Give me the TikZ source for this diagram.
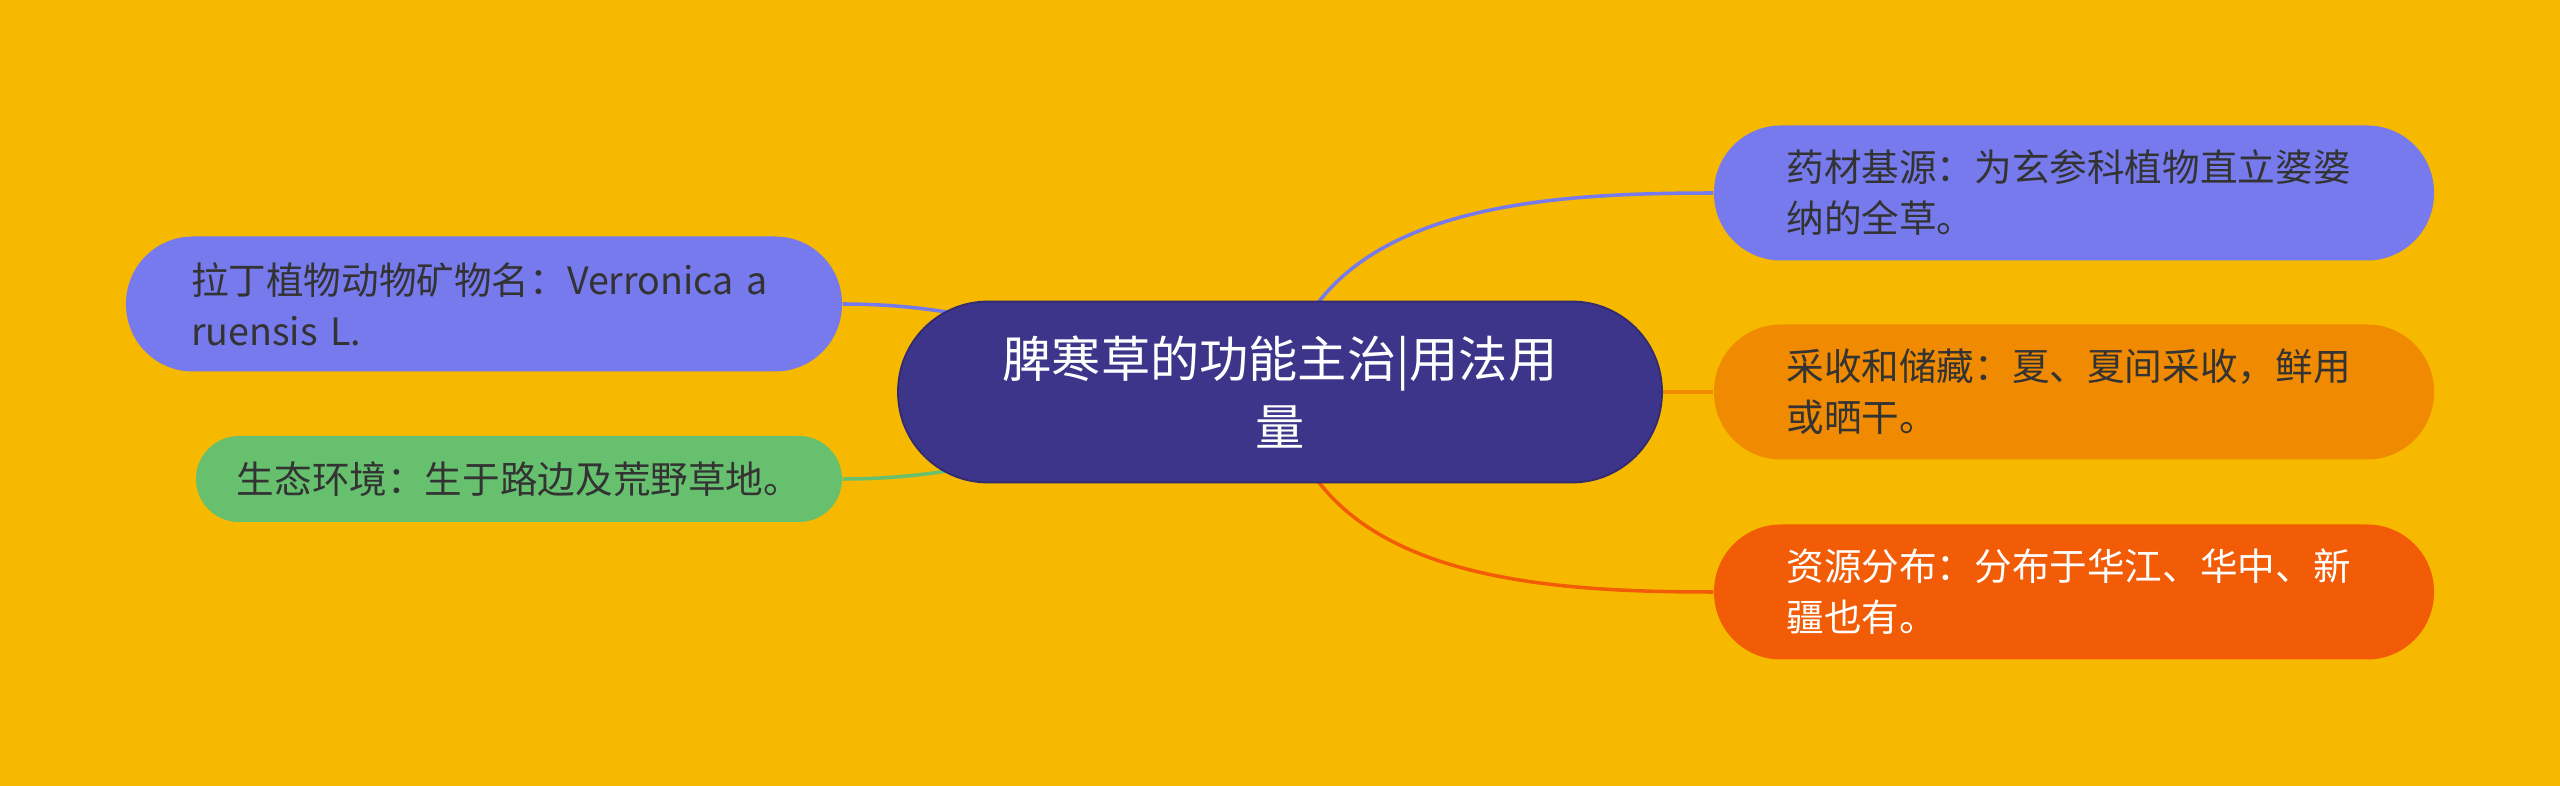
\documentclass[tikz,border=0pt]{standalone}
\usepackage{fontspec}
\setmainfont{Noto Sans CJK SC}
\definecolor{bgyellow}{RGB}{246,185,0}
\definecolor{rootblue}{RGB}{61,53,137}
\definecolor{leafblue}{RGB}{118,122,236}
\definecolor{leaforange}{RGB}{240,138,0}
\definecolor{leafred}{RGB}{242,92,6}
\definecolor{leafgreen}{RGB}{102,192,110}
\definecolor{textdark}{RGB}{51,51,51}
\pgfdeclarelayer{bg}
\pgfdeclarelayer{lines}
\pgfsetlayers{bg,lines,main}

\begin{document}
\begin{tikzpicture}[
    root/.style={fill=rootblue, draw=rootblue!80!black, line width=0.5pt, text=white,
        minimum width=7.64cm, minimum height=1.81cm, rounded corners=0.9cm,
        align=center, font=\fontsize{14}{19.6}\selectfont},
    leaf/.style={minimum height=1.35cm, rounded corners=0.67cm, text=textdark,
        align=left, font=\fontsize{10.7}{14.5}\selectfont},
    branch/.style={line width=1pt}
  ]
            \useasboundingbox (0,0) rectangle (25.6,7.85);

            \node[root] (C) at (12.80,3.93) {脾寒草的功能主治|用法用\\量};

            \node[leaf, fill=leafblue, minimum width=7.2cm, text width=5.75cm] (R1) at (20.74,5.92)
                {药材基源：为玄参科植物直立婆婆\\纳的全草。};
            \node[leaf, fill=leaforange, minimum width=7.2cm, text width=5.75cm] (R2) at (20.74,3.93)
                {采收和储藏：夏、夏间采收，鲜用\\或晒干。};
            \node[leaf, fill=leafred, text=white, minimum width=7.2cm, text width=5.75cm] (R3) at (20.74,1.93)
                {资源分布：分布于华江、华中、新\\疆也有。};
            \node[leaf, fill=leafblue, minimum width=7.16cm, text width=5.86cm] (L1) at (4.84,4.81)
                {拉丁植物动物矿物名：Verronica a\\ruensis L.};
            \node[leaf, fill=leafgreen, minimum width=6.46cm, minimum height=0.86cm, rounded corners=0.43cm,
                align=center] (L2) at (5.19,3.06)
                {生态环境：生于路边及荒野草地。};

            \begin{pgfonlayer}{lines}
            \draw[branch, leafblue] (C.center) to[out=80, in=180] (R1.west);
            \draw[branch, leaforange] (C.center) -- (R2.west);
            \draw[branch, leafred] (C.center) to[out=-80, in=180] (R3.west);
            \draw[branch, leafblue] (C.center) to[out=172, in=0] (L1.east);
            \draw[branch, leafgreen] (C.center) to[out=188, in=0] (L2.east);
            \end{pgfonlayer}

            \begin{pgfonlayer}{bg}
            \fill[bgyellow] (-0.1,-0.1) rectangle (25.7,7.95);
            \end{pgfonlayer}
        \end{tikzpicture}
\end{document}
